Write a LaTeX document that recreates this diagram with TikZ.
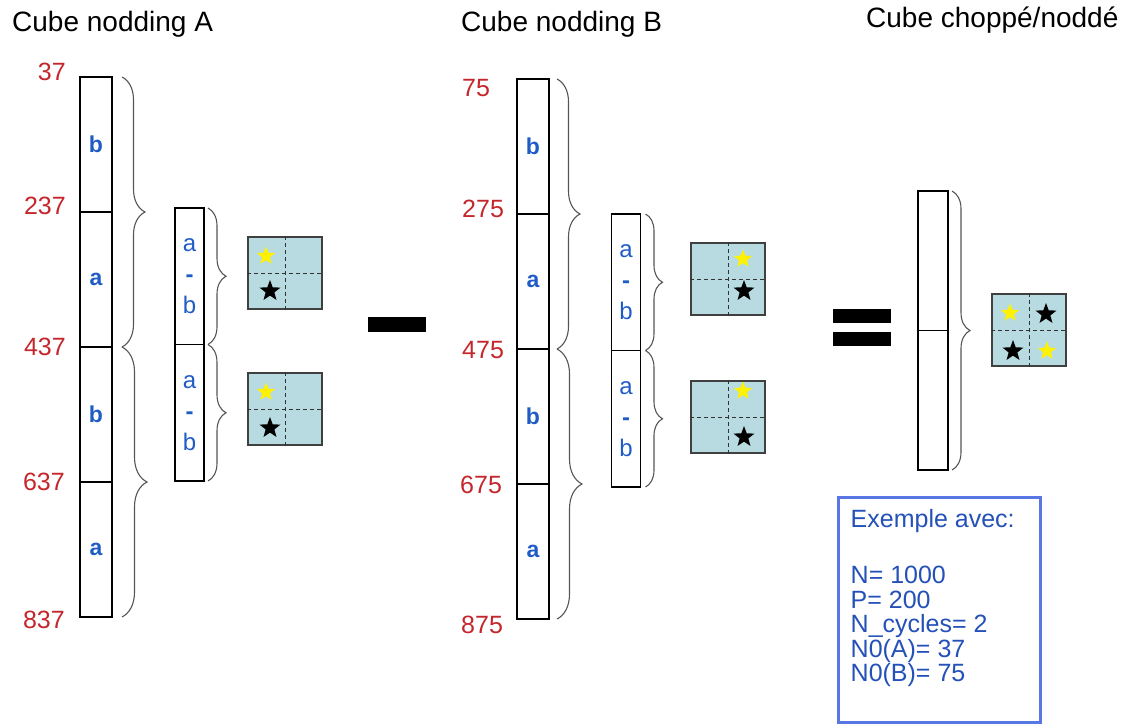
\documentclass[tikz,border=0pt]{standalone}
\usepackage{fontspec}
\setmainfont{Liberation Sans}
\usetikzlibrary{positioning,shapes.geometric,decorations.pathreplacing}
\definecolor{numRed}{HTML}{C4262B}
\definecolor{letBlue}{HTML}{1F5CC6}
\definecolor{gridFill}{HTML}{B7DBE0}
\definecolor{frameBlue}{HTML}{5877E4}
\definecolor{noteBlue}{HTML}{2451B8}
\definecolor{braceGray}{HTML}{555555}
\tikzset{
  title/.style={font=\fontsize{28}{32}\selectfont, anchor=base west, inner sep=0pt},
  segbig/.style={rectangle, draw, line width=1.1pt, outer sep=0pt, inner sep=0pt,
    minimum width=32pt, minimum height=135pt, font=\fontsize{23}{26}\selectfont\bfseries, text=letBlue},
  segsmall/.style={rectangle, draw, line width=1.1pt, outer sep=0pt, inner sep=0pt,
    minimum width=29pt, minimum height=136.5pt, align=center, font=\fontsize{24}{31}\selectfont, text=letBlue},
  numA/.style={font=\fontsize{25}{28}\selectfont, text=numRed, anchor=east, inner sep=0pt},
  numB/.style={font=\fontsize{25}{28}\selectfont, text=numRed, anchor=west, inner sep=0pt},
  curly/.style={decorate, decoration={brace, amplitude=#1}, draw=braceGray, line width=1.1pt},
  curly/.default=22pt,
  cellgrid/.style={rectangle, draw=black!75, line width=1.2pt, fill=gridFill,
    minimum width=74pt, minimum height=72pt, inner sep=0pt},
  griddash/.style={draw=black!80, line width=1pt, dash pattern=on 4pt off 3pt},
  ystar/.style={star, star points=5, star point ratio=2.3, fill=yellow, minimum size=19pt, inner sep=0pt},
  kstar/.style={star, star points=5, star point ratio=2.4, fill=black, minimum size=22pt, inner sep=0pt},
  opbar/.style={rectangle, fill=black, minimum width=58pt, minimum height=15pt, inner sep=0pt},
  infoframe/.style={rectangle, draw=frameBlue, line width=3pt, fill=white,
    minimum width=202pt, minimum height=225pt, inner sep=0pt},
  notetext/.style={font=\fontsize{25}{24.5}\selectfont, text=noteBlue, align=left, inner sep=0pt},
}
\begin{document}
\begin{tikzpicture}[x=1pt,y=-1pt]
  \useasboundingbox (0,0) rectangle (1134,724);

  % titles
  \node[title] (tA) at (12,31) {Cube nodding A};
  \node[title] (tB) at (461,31) {Cube nodding B};
  \node[title] (tC) at (866,27) {Cube choppé/noddé};

  % cube A
  \node[segbig] (a1) at (96,144.5) {b};
  \node[segbig, below=0pt of a1] (a2) {a};
  \node[segbig, below=0pt of a2] (a3) {b};
  \node[segbig, below=0pt of a3] (a4) {a};
  \node[numA] (nA0) at (66,72) {37};
  \node[numA] (nA1) at (66,206) {237};
  \node[numA] (nA2) at (66,347) {437};
  \node[numA] (nA3) at (65,482) {637};
  \node[numA] (nA4) at (65,620) {837};
  \draw[curly=23pt] ([xshift=10pt]a1.north east) -- ([xshift=10pt]a2.south east);
  \draw[curly=25pt] ([xshift=10pt]a3.north east) -- ([xshift=10pt]a4.south east);

  \node[segsmall] (sA1) at (189.5,276.25) {a\\\textbf{-}\\b};
  \node[segsmall, below=0pt of sA1] (sA2) {a\\\textbf{-}\\b};
  \draw[curly=18pt] ([xshift=4pt]sA1.north east) -- ([xshift=4pt]sA1.south east);
  \draw[curly=18pt] ([xshift=4pt]sA2.north east) -- ([xshift=4pt]sA2.south east);

  \node[cellgrid] (gA1) at (285,273) {};
  \draw[griddash] (gA1.north) -- (gA1.south) (gA1.west) -- (gA1.east);
  \node[ystar] (yA1) at ([shift={(-19,-17)}]gA1.center) {};
  \node[kstar] (kA1) at ([shift={(-15,18)}]gA1.center) {};
  \node[cellgrid] (gA2) at (285,409) {};
  \draw[griddash] (gA2.north) -- (gA2.south) (gA2.west) -- (gA2.east);
  \node[ystar] (yA2) at ([shift={(-19,-17)}]gA2.center) {};
  \node[kstar] (kA2) at ([shift={(-15,19)}]gA2.center) {};

  \node[opbar] (minus) at (397,324.5) {};

  % cube B
  \node[segbig] (b1) at (533,146.5) {b};
  \node[segbig, below=0pt of b1] (b2) {a};
  \node[segbig, below=0pt of b2] (b3) {b};
  \node[segbig, below=0pt of b3] (b4) {a};
  \node[numB] (nB0) at (462,88) {75};
  \node[numB] (nB1) at (462,209) {275};
  \node[numB] (nB2) at (462,350) {475};
  \node[numB] (nB3) at (460,485) {675};
  \node[numB] (nB4) at (461,625) {875};
  \draw[curly=23pt] ([xshift=8pt]b1.north east) -- ([xshift=8pt]b2.south east);
  \draw[curly=25pt] ([xshift=8pt]b3.north east) -- ([xshift=8pt]b4.south east);

  \node[segsmall] (sB1) at (626,282.25) {a\\\textbf{-}\\b};
  \node[segsmall, below=0pt of sB1] (sB2) {a\\\textbf{-}\\b};
  \draw[curly=17pt] ([xshift=5pt]sB1.north east) -- ([xshift=5pt]sB1.south east);
  \draw[curly=17pt] ([xshift=5pt]sB2.north east) -- ([xshift=5pt]sB2.south east);

  \node[cellgrid] (gB1) at (728,279) {};
  \draw[griddash] (gB1.north) -- (gB1.south) (gB1.west) -- (gB1.east);
  \node[ystar] (yB1) at ([shift={(15,-20)}]gB1.center) {};
  \node[kstar] (kB1) at ([shift={(16,12)}]gB1.center) {};
  \node[cellgrid] (gB2) at (728,417) {};
  \draw[griddash] (gB2.north) -- (gB2.south) (gB2.west) -- (gB2.east);
  \node[ystar] (yB2) at ([shift={(15,-26)}]gB2.center) {};
  \node[kstar] (kB2) at ([shift={(16,20)}]gB2.center) {};

  \node[opbar, minimum height=14pt] (eqTop) at (862,316) {};
  \node[opbar, minimum height=14pt] (eqBot) at (862,339) {};

  % cube chopped/nodded
  \node[segsmall, minimum width=30pt, minimum height=139.5pt] (c1) at (933,260.75) {};
  \node[segsmall, minimum width=30pt, minimum height=139.5pt, below=0pt of c1] (c2) {};
  \draw[curly=18pt] ([xshift=4pt]c1.north east) -- ([xshift=4pt]c2.south east);

  \node[cellgrid] (gC) at (1029,330) {};
  \draw[griddash] (gC.north) -- (gC.south) (gC.west) -- (gC.east);
  \node[ystar] (yC1) at ([shift={(-19,-17)}]gC.center) {};
  \node[kstar] (kC1) at ([shift={(17,-16)}]gC.center) {};
  \node[kstar] (kC2) at ([shift={(-16,21)}]gC.center) {};
  \node[ystar] (yC2) at ([shift={(18,21)}]gC.center) {};

  % parameters
  \node[infoframe] (note) at (939,609.5) {};
  \node[notetext, anchor=north west] (notetxt) at ([xshift=14pt,yshift=-14pt]note.north west)
    {Exemple avec:\\[31.5pt]N= 1000\\P= 200\\N\_cycles= 2\\N0(A)= 37\\N0(B)= 75};
\end{tikzpicture}
\end{document}
